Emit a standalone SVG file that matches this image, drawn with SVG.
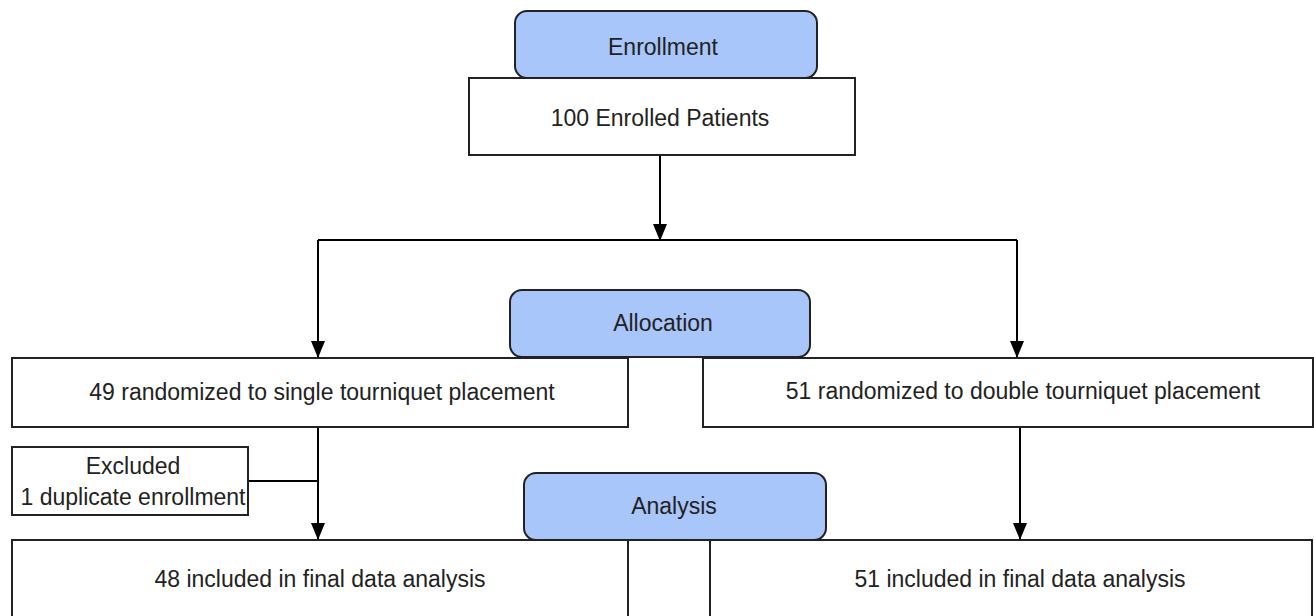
<svg xmlns="http://www.w3.org/2000/svg" width="1314" height="616" viewBox="0 0 1314 616">
<defs>
<marker id="arr" markerUnits="userSpaceOnUse" markerWidth="14" markerHeight="18" refX="7" refY="17" orient="auto" viewBox="0 0 14 18">
<path d="M0,0 L14,0 L7,17 Z" fill="#000" transform="rotate(0)"/>
</marker>
<marker id="arrd" markerUnits="userSpaceOnUse" markerWidth="18" markerHeight="14" refX="17" refY="7" orient="auto" viewBox="0 0 18 14">
<path d="M0,0 L17,7 L0,14 Z" fill="#000"/>
</marker>
<style>
.box{fill:#fff;stroke:#222;stroke-width:2}
.hdr{fill:#a9c6fa;stroke:#222;stroke-width:2}
.t{font-family:"Liberation Sans",Arial,sans-serif;font-size:23px;fill:#222;text-anchor:middle;dominant-baseline:central}
.c{fill:none;stroke:#000;stroke-width:2}
</style>
</defs>
<rect width="1314" height="616" fill="#fff"/>
<g id="connectors">
<line class="c" x1="660" y1="155" x2="660" y2="241" marker-end="url(#arrd)"/>
<line class="c" x1="318" y1="240" x2="1017" y2="240"/>
<line class="c" x1="318" y1="240" x2="318" y2="358" marker-end="url(#arrd)"/>
<line class="c" x1="1017" y1="240" x2="1017" y2="358" marker-end="url(#arrd)"/>
<line class="c" x1="318" y1="427" x2="318" y2="540" marker-end="url(#arrd)"/>
<line class="c" x1="248" y1="481" x2="318" y2="481"/>
<line class="c" x1="1020" y1="427" x2="1020" y2="540" marker-end="url(#arrd)"/>
</g>
<g id="n100">
<rect class="box" x="469" y="78" width="386" height="77"/>
<text class="t" x="660" y="118">100 Enrolled Patients</text>
</g>
<g id="enrollment">
<rect class="hdr" x="515" y="11" width="302" height="67" rx="12"/>
<text class="t" x="663" y="47">Enrollment</text>
</g>
<g id="n49">
<rect class="box" x="12" y="358" width="616" height="69"/>
<text class="t" x="322" y="392">49 randomized to single tourniquet placement</text>
</g>
<g id="n51">
<rect class="box" x="703" y="358" width="610" height="69"/>
<text class="t" x="1023" y="391">51 randomized to double tourniquet placement</text>
</g>
<g id="allocation">
<rect class="hdr" x="510" y="290" width="300" height="67" rx="12"/>
<text class="t" x="663" y="323">Allocation</text>
</g>
<g id="excluded">
<rect class="box" x="12" y="447" width="236" height="68"/>
<text class="t" x="133" y="466">Excluded</text>
<text class="t" x="133" y="497">1 duplicate enrollment</text>
</g>
<g id="n48final">
<rect class="box" x="12" y="540" width="616" height="90"/>
<text class="t" x="320" y="579">48 included in final data analysis</text>
</g>
<g id="n51final">
<rect class="box" x="710" y="540" width="602" height="90"/>
<text class="t" x="1020" y="579">51 included in final data analysis</text>
</g>
<g id="analysis">
<rect class="hdr" x="524" y="473" width="302" height="67" rx="12"/>
<text class="t" x="674" y="506">Analysis</text>
</g>
</svg>
